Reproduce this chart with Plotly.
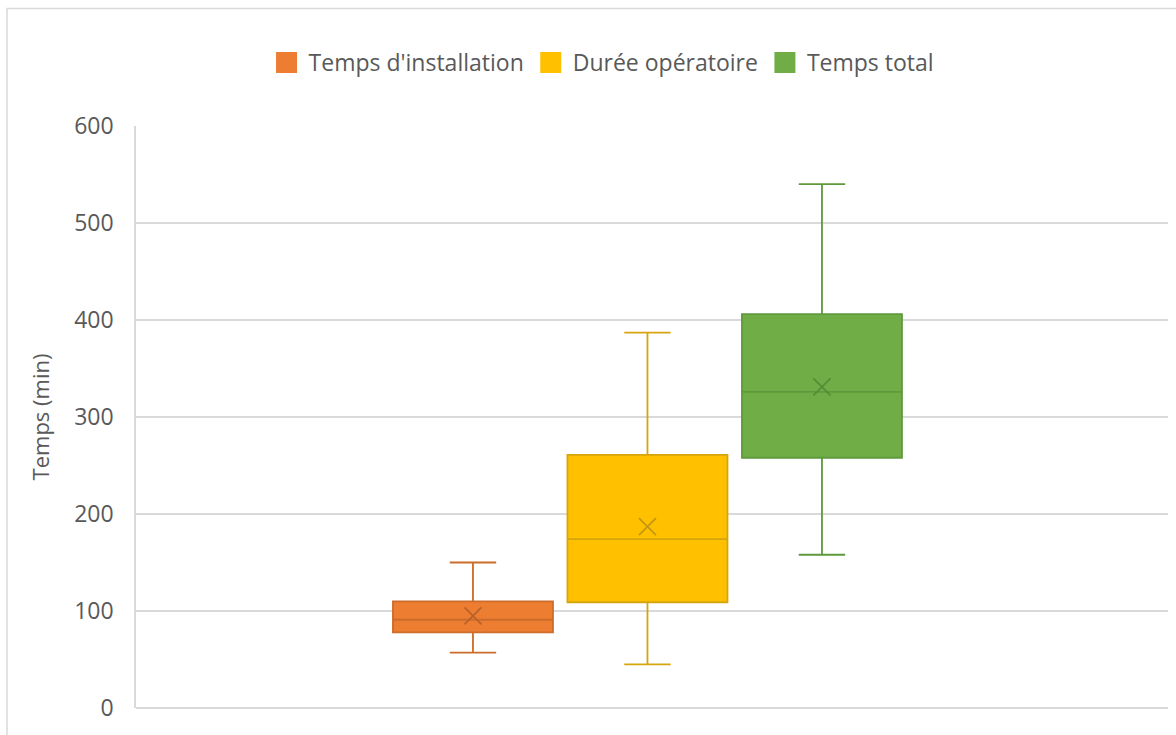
import plotly.graph_objects as go

# Summary statistics per series (minutes)
series = ["Temps d'installation", "Durée opératoire", "Temps total"]
lower_whisker = [57, 45, 158]
q1 = [78, 109, 258]
median = [91, 174, 326]
q3 = [110, 261, 406]
upper_whisker = [150, 387, 540]
mean = [95, 187, 331]

fill_colors = ["#ED7D31", "#FFC000", "#70AD47"]
line_colors = ["#CB6C2A", "#D6A50E", "#5E9A3B"]
mean_colors = ["#B8612A", "#C49613", "#558C36"]

FONT = "'Open Sans', sans-serif"
TEXT = "#595959"
GRID = "#D9D9D9"

# boxes sit side by side around a single category
offsets = [i - (len(series) - 1) / 2 for i in range(len(series))]

fig = go.Figure()
for i, name in enumerate(series):
    fig.add_trace(go.Box(
        x=[offsets[i]],
        q1=[q1[i]], median=[median[i]], q3=[q3[i]],
        lowerfence=[lower_whisker[i]], upperfence=[upper_whisker[i]],
        name=name,
        width=0.917,
        whiskerwidth=0.29,
        fillcolor=fill_colors[i],
        line=dict(color=line_colors[i], width=1.8),
        boxpoints=False,
        showlegend=False,
        hoverinfo="y",
    ))
    fig.add_trace(go.Scatter(
        x=[offsets[i]], y=[mean[i]],
        mode="markers",
        marker=dict(symbol="x-thin", size=17,
                    line=dict(color=mean_colors[i], width=1.7)),
        showlegend=False,
        hoverinfo="y",
    ))
    # legend swatch
    fig.add_trace(go.Scatter(
        x=[None], y=[None], mode="markers", name=name,
        marker=dict(symbol="square", size=20, color=fill_colors[i],
                    line=dict(color=fill_colors[i], width=5)),
    ))

# outer chart frame
fig.add_shape(type="rect", xref="paper", yref="paper",
              x0=-0.125, x1=1.2, y0=-0.2, y1=1.2017,
              line=dict(color=GRID, width=1.5), layer="below")

fig.update_layout(
    width=1176, height=735,
    margin=dict(l=136, r=8, t=126, b=27),
    paper_bgcolor="white", plot_bgcolor="white",
    font=dict(family=FONT, color=TEXT, size=22),
    legend=dict(orientation="h", x=0.4516, xanchor="center",
                y=1.109, yanchor="middle",
                font=dict(size=23, color=TEXT, family=FONT),
                itemsizing="trace", itemwidth=34,
                traceorder="normal", bgcolor="rgba(0,0,0,0)"),
    xaxis=dict(range=[-2.931, 2.983], showticklabels=False, showgrid=False,
               zeroline=False, showline=False, ticks=""),
    yaxis=dict(range=[0, 600], dtick=100, tick0=0,
               gridcolor=GRID, gridwidth=1.5,
               showline=True, linecolor=GRID, linewidth=1.5,
               zeroline=True, zerolinecolor=GRID, zerolinewidth=1.5,
               ticks="", ticklabelstandoff=16,
               tickfont=dict(size=23, color=TEXT, family=FONT),
               title=dict(text="Temps (min)", standoff=18,
                          font=dict(size=22, color=TEXT, family=FONT))),
    showlegend=True,
)

fig.write_html("out.html")
